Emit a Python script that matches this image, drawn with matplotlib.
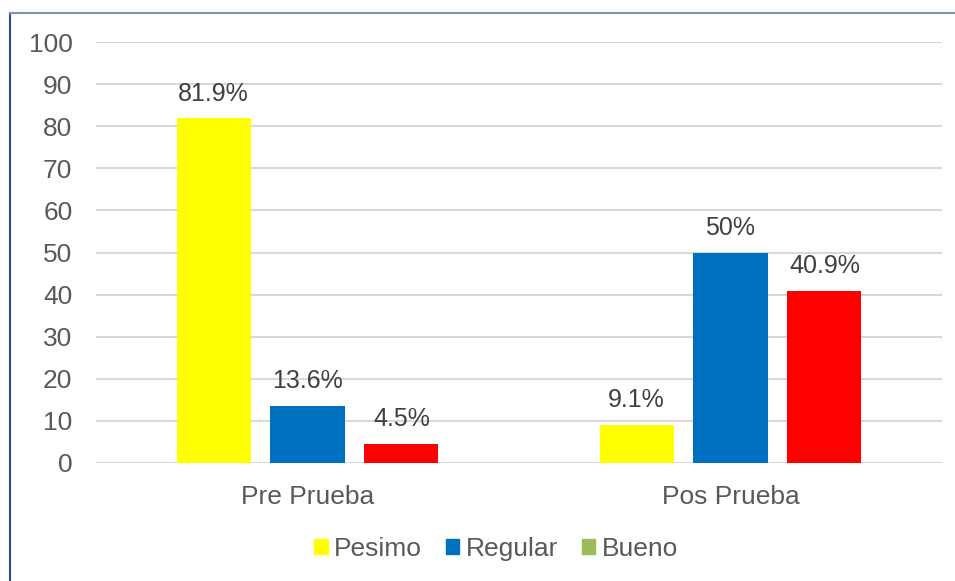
import numpy as np
import matplotlib.pyplot as plt
from matplotlib.lines import Line2D
from matplotlib.patches import Patch

plt.rcParams['font.family'] = ['Liberation Sans', 'DejaVu Sans']

# Data
categorias = ["Pre Prueba", "Pos Prueba"]
pesimo = [81.9, 9.1]
regular = [13.6, 50]
bueno = [4.5, 40.9]
etiquetas_pesimo = ["81.9%", "9.1%"]
etiquetas_regular = ["13.6%", "50%"]
etiquetas_bueno = ["4.5%", "40.9%"]

texto = "#595959"

fig = plt.figure(figsize=(9.55, 5.81), dpi=100)
ax = fig.add_axes([96/955, 1-463/581, (942-96)/955, (463-42)/581])

x = np.arange(len(categorias))
w = 0.175
d = 0.222
series = [
    (pesimo, etiquetas_pesimo, "#FFFF00", -d),
    (regular, etiquetas_regular, "#0070C0", 0),
    (bueno, etiquetas_bueno, "#FF0000", d),
]
for vals, labs, col, off in series:
    bars = ax.bar(x + off, vals, w, color=col, zorder=3)
    for b, lab in zip(bars, labs):
        ax.text(b.get_x() + b.get_width()/2, b.get_height() + 3.0, lab,
                ha='center', va='bottom', fontsize=18, color="#404040")

ax.set_xlim(-0.5, 1.5)
ax.set_ylim(0, 100)
ax.set_yticks(range(0, 101, 10))
ax.set_xticks(x)
ax.set_xticklabels(categorias)
ax.tick_params(axis='both', length=0, labelsize=19, colors=texto)
ax.tick_params(axis='y', pad=17)
ax.tick_params(axis='x', pad=16)
ax.grid(axis='y', color="#D9D9D9", linewidth=1.5, zorder=0)
for s in ax.spines.values():
    s.set_visible(False)

handles = [Patch(color="#FFFF00"), Patch(color="#0070C0"), Patch(color="#9BBB59")]
fig.legend(handles, ["Pesimo", "Regular", "Bueno"], loc='center',
           bbox_to_anchor=(496/955, 1-549/581), ncol=3, frameon=False,
           fontsize=19, labelcolor=texto, handlelength=0.5, handleheight=0.5,
           handletextpad=0.25, columnspacing=0.9)

# marco del grafico
fig.add_artist(Line2D([10/955, 10/955], [0, 1-13/581], color="#2F4A8A", linewidth=1.5))
fig.add_artist(Line2D([10/955, 1], [1-13/581, 1-13/581], color="#7F93B5", linewidth=1.5))

fig.savefig("out.png", dpi=100)
